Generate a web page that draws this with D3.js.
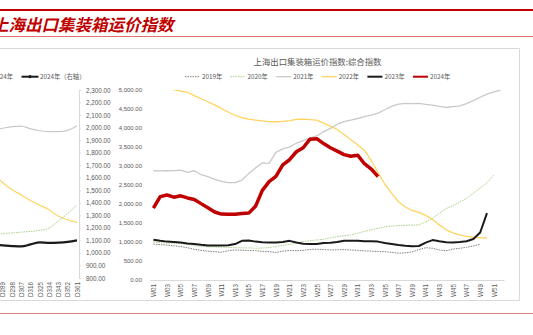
<!DOCTYPE html>
<html>
<head>
<meta charset="utf-8">
<script src="https://cdn.jsdelivr.net/npm/d3@7"></script>
<style>
body { margin: 0; background: #fff; }
svg { display: block; font-family: "Noto Sans CJK SC", "Liberation Sans", sans-serif; }
</style>
</head>
<body>
<svg id="drawing_region"></svg>
<script>
// right chart: weekly categories
const weeks = ["W01","W02","W03","W04","W05","W06","W07","W08","W09","W10","W11","W12","W13",
  "W14","W15","W16","W17","W18","W19","W20","W21","W22","W23","W24","W25","W26",
  "W27","W28","W29","W30","W31","W32","W33","W34","W35","W36","W37","W38","W39",
  "W40","W41","W42","W43","W44","W45","W46","W47","W48","W49","W50","W51","W52"];
const weekTicks = ["W01","W03","W05","W07","W09","W11","W13","W15","W17","W19","W21","W23","W25",
  "W27","W29","W31","W33","W35","W37","W39","W41","W43","W45","W47","W49","W51"];
const yTicks = [0, 500, 1000, 1500, 2000, 2500, 3000, 3500, 4000, 4500, 5000];

const v2019 = [945,930,920,900,880,850,810,780,760,745,730,770,790,785,775,770,755,745,725,760,
  775,770,780,805,810,800,790,795,800,790,780,765,760,750,745,725,705,715,740,800,850,835,790,770,
  815,835,860,895,940];
const v2020 = [1000,985,975,970,960,935,905,885,875,870,862,858,850,845,845,835,840,855,880,910,
  940,975,1010,1035,1055,1070,1110,1140,1165,1190,1230,1280,1320,1360,1400,1420,1430,1440,1445,1450,
  1530,1620,1760,1880,1960,2050,2150,2280,2420,2560,2760];
const v2021 = [2875,2870,2875,2880,2890,2830,2875,2770,2720,2650,2595,2565,2565,2630,2800,2950,
  3080,3070,3360,3450,3505,3600,3670,3740,3790,3900,3990,4100,4170,4210,4250,4300,4340,4390,4480,
  4570,4630,4650,4640,4650,4620,4600,4570,4540,4560,4580,4640,4720,4810,4890,4950,5000];
const v2022 = [5110,5080,5040,5005,4980,4940,4850,4770,4690,4610,4510,4420,4330,4270,4235,4210,
  4185,4170,4165,4175,4195,4225,4235,4220,4205,4130,4050,3960,3830,3690,3560,3410,3150,2830,2520,
  2280,2060,1920,1830,1780,1700,1590,1450,1320,1240,1185,1150,1125,1110,1105];
const v2023 = [1060,1030,1010,1000,985,960,945,925,910,905,905,915,945,1030,1040,1010,995,985,985,
  1000,1030,985,955,945,950,975,980,1000,1030,1035,1030,1020,1020,1010,975,950,920,900,890,895,985,
  1050,1020,995,990,1000,1020,1080,1250,1760];
const v2024 = [1890,2195,2237,2180,2215,2160,2120,2010,1900,1790,1735,1728,1730,1748,1760,1940,
  2360,2590,2725,3030,3165,3375,3480,3705,3720,3590,3480,3390,3300,3255,3285,3060,2920,2720];

// left chart (cut off): day categories, right axis
const leftDays = ["D280","D289","D298","D307","D316","D325","D334","D343","D352","D361"];
const leftTicks = [800,900,1000,1100,1200,1300,1400,1500,1600,1700,1800,1900,2000,2100,2200,2300];
const leftGray = [1980,1995,2008,2012,1990,1975,1968,1968,1978,2015];
const leftYellow = [1630,1560,1505,1462,1418,1380,1345,1292,1265,1244];
const leftGreen = [1150,1153,1160,1166,1172,1180,1200,1255,1315,1385];
const leftBlack = [1065,1060,1055,1052,1068,1085,1080,1082,1088,1100];

const series = [
  {name: "2019年", values: v2019, color: "#7f7f7f", width: 1, dash: "1.5,1"},
  {name: "2020年", values: v2020, color: "#a9d18e", width: 1, dash: "1.5,1"},
  {name: "2021年", values: v2021, color: "#c9c9c9", width: 1.3, dash: null},
  {name: "2022年", values: v2022, color: "#ffd45e", width: 1.3, dash: null},
  {name: "2023年", values: v2023, color: "#1a1a1a", width: 2, dash: null},
  {name: "2024年", values: v2024, color: "#c00000", width: 3.5, dash: null}
];

const svg = d3.select("#drawing_region").attr("width", 533).attr("height", 335);
const numFmt = d3.format(",.2f");

// header
svg.append("line").attr("x1", 0).attr("x2", 533).attr("y1", 10).attr("y2", 10)
  .attr("stroke", "#c00000").attr("stroke-width", 2);
svg.append("text").attr("x", -8).attr("y", 31)
  .attr("fill", "#c00000").attr("font-size", 16.5).attr("font-weight", "bold")
  .attr("font-style", "italic").text("上海出口集装箱运价指数");
svg.append("line").attr("x1", 0).attr("x2", 533).attr("y1", 36.5).attr("y2", 36.5)
  .attr("stroke", "#e07070").attr("stroke-width", 1);
svg.append("line").attr("x1", 0).attr("x2", 533).attr("y1", 313.5).attr("y2", 313.5)
  .attr("stroke", "#d98080").attr("stroke-width", 1);

// chart frame
svg.append("path").attr("d", "M0,48.5H519.5V300.5H0")
  .attr("fill", "none").attr("stroke", "#d9d9d9").attr("stroke-width", 1);

// ---------- left chart ----------
const lx = d3.scalePoint().domain(leftDays).range([-6.5, 77]);
const ly = d3.scaleLinear().domain([800, 2300]).range([278, 90]);

const lyAxis = svg.append("g").attr("transform", "translate(79,0)")
  .call(d3.axisRight(ly).tickValues(leftTicks).tickFormat(numFmt).tickSize(2).tickPadding(5));
lyAxis.select(".domain").attr("stroke", "#d9d9d9");
lyAxis.selectAll(".tick line").attr("stroke", "#d9d9d9");
lyAxis.selectAll("text").attr("fill", "#595959").attr("font-size", 6.3)
  .attr("font-family", "Liberation Sans");

const lxAxis = svg.append("g").attr("transform", "translate(0,278)")
  .call(d3.axisBottom(lx).tickSize(0));
lxAxis.select(".domain").remove();
lxAxis.selectAll("text").attr("fill", "#595959").attr("font-size", 6.3)
  .attr("font-family", "Liberation Sans")
  .attr("transform", "rotate(-90)").attr("x", -4).attr("y", 0).attr("dy", "0.35em")
  .style("text-anchor", "end");

const lline = d3.line().x((d, i) => lx(leftDays[i])).y(d => ly(d)).curve(d3.curveMonotoneX);
[
  {values: leftGray, color: "#c9c9c9", width: 1.2, dash: null},
  {values: leftYellow, color: "#ffd45e", width: 1.2, dash: null},
  {values: leftGreen, color: "#a9d18e", width: 1, dash: "1.5,1"},
  {values: leftBlack, color: "#1a1a1a", width: 2.2, dash: null}
].forEach(s => {
  svg.append("path").datum(s.values).attr("d", lline)
    .attr("fill", "none").attr("stroke", s.color).attr("stroke-width", s.width)
    .attr("stroke-dasharray", s.dash);
});

// left legend (partly cut)
svg.append("text").attr("x", 13).attr("y", 76.7).attr("dy", "0.35em")
  .attr("text-anchor", "end").attr("font-size", 6.3).attr("fill", "#595959").text("2024年");
svg.append("line").attr("x1", 21.5).attr("x2", 38.5).attr("y1", 76.7).attr("y2", 76.7)
  .attr("stroke", "#1a1a1a").attr("stroke-width", 2);
svg.append("circle").attr("cx", 30).attr("cy", 76.7).attr("r", 1.6).attr("fill", "#1a1a1a");
svg.append("text").attr("x", 40).attr("y", 76.7).attr("dy", "0.35em")
  .attr("font-size", 6.3).attr("fill", "#595959").text("2024年（右轴）");

// ---------- right chart ----------
const x = d3.scalePoint().domain(weeks).range([150, 504]).padding(0.5);
const y = d3.scaleLinear().domain([0, 5000]).range([280, 90]);

svg.append("text").attr("x", 317.5).attr("y", 62).attr("dy", "0.35em")
  .attr("text-anchor", "middle").attr("font-size", 8.4).attr("fill", "#595959")
  .text("上海出口集装箱运价指数:综合指数");

const yAxis = svg.append("g").attr("transform", "translate(142,0)")
  .call(d3.axisLeft(y).tickValues(yTicks).tickFormat(numFmt).tickSize(0).tickPadding(0));
yAxis.select(".domain").remove();
yAxis.selectAll("text").attr("fill", "#595959").attr("font-size", 6)
  .attr("font-family", "Liberation Sans");

const xAxis = svg.append("g").attr("transform", "translate(0,280)")
  .call(d3.axisBottom(x).tickValues(weekTicks).tickSize(0));
xAxis.select(".domain").attr("stroke", "#d9d9d9");
xAxis.selectAll("text").attr("fill", "#595959").attr("font-size", 6.3)
  .attr("font-family", "Liberation Sans")
  .attr("transform", "rotate(-90)").attr("x", -4).attr("y", 0).attr("dy", "0.35em")
  .style("text-anchor", "end");

svg.append("clipPath").attr("id", "plot_clip")
  .append("rect").attr("x", 150).attr("y", 90).attr("width", 354).attr("height", 190);

const line = d3.line().x((d, i) => x(weeks[i])).y(d => y(d));
const plot = svg.append("g").attr("clip-path", "url(#plot_clip)");
series.forEach(s => {
  plot.append("path").datum(s.values).attr("d", line)
    .attr("fill", "none").attr("stroke", s.color).attr("stroke-width", s.width)
    .attr("stroke-dasharray", s.dash).attr("stroke-linejoin", "round");
});

// legend
const legend = svg.append("g").attr("transform", "translate(185,76.7)");
series.forEach((s, i) => {
  const g = legend.append("g").attr("transform", `translate(${i * 45.6},0)`);
  g.append("line").attr("x1", 0).attr("x2", 15).attr("y1", 0).attr("y2", 0)
    .attr("stroke", s.color).attr("stroke-width", Math.min(s.width, 2))
    .attr("stroke-dasharray", s.dash);
  g.append("text").attr("x", 17).attr("dy", "0.35em").attr("font-size", 6.3)
    .attr("fill", "#595959").text(s.name);
});
</script>
</body>
</html>
